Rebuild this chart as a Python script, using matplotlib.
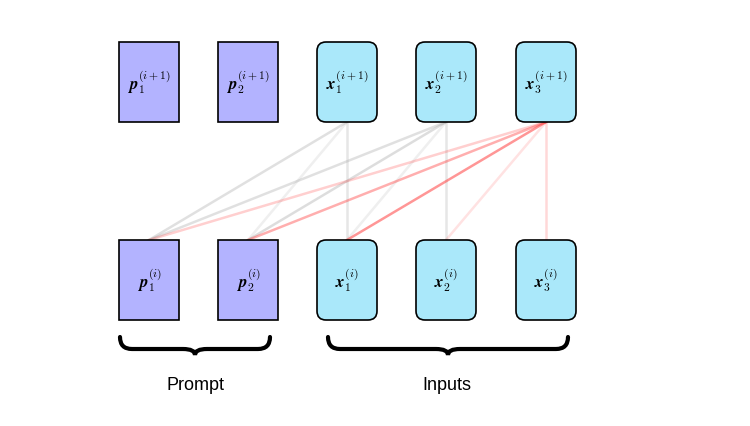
import matplotlib
matplotlib.use("Agg")
import matplotlib.pyplot as plt
from matplotlib.patches import FancyBboxPatch, Rectangle, PathPatch
from matplotlib.path import Path

plt.rcParams["mathtext.fontset"] = "cm"

prompt_labels = ["p_1", "p_2"]
input_labels = ["x_1", "x_2", "x_3"]
# attention weights: (source top index, target bottom index, alpha)
grey_edges = [(2, 0, 0.35), (2, 1, 0.18), (2, 2, 0.28),
              (3, 0, 0.35), (3, 1, 0.38), (3, 2, 0.18), (3, 3, 0.28)]
red_edges = [(4, 0, 0.25), (4, 1, 0.42), (4, 2, 0.55), (4, 3, 0.15), (4, 4, 0.2)]

fig = plt.figure(figsize=(7.5, 4.26), dpi=100)
ax = fig.add_axes([0, 0, 1, 1])
ax.set_xlim(0, 750); ax.set_ylim(426, 0); ax.axis("off")

xc = [149, 248, 347, 446, 546]
w, h = 60, 80
top_y, bot_y = 42, 240

for s, t, a in grey_edges:
    ax.plot([xc[s], xc[t]], [top_y + h, bot_y], color="#a8a8a8", alpha=a, lw=1.8, zorder=1)
for s, t, a in red_edges:
    ax.plot([xc[s], xc[t]], [top_y + h, bot_y], color="#ff4040", alpha=a, lw=1.8, zorder=1)

labels = prompt_labels + input_labels
for i, lab in enumerate(labels):
    v, sub = lab.split("_")
    for y0, sup in [(top_y, "(i+1)"), (bot_y, "(i)")]:
        x0 = xc[i] - w / 2
        if v == "p":
            ax.add_patch(Rectangle((x0, y0), w, h, fc="#b3b3ff", ec="black", lw=1.2, zorder=2))
        else:
            ax.add_patch(FancyBboxPatch((x0, y0), w, h, boxstyle="round,pad=0,rounding_size=9",
                                        fc="#aae8fa", ec="black", lw=1.2, zorder=2))
        ax.text(xc[i], y0 + h / 2, r"$\mathbfit{%s}_{%s}^{%s}$" % (v, sub, sup),
                ha="center", va="center", fontsize=12, zorder=3)

def brace(x1, x2, y, d=18):
    xm = (x1 + x2) / 2
    r = 12
    verts = [(x1, y), (x1, y + r), (x1 + r, y + r),
             (xm - r, y + r), (xm, y + r), (xm, y + d),
             (xm, y + r), (xm + r, y + r),
             (x2 - r, y + r), (x2, y + r), (x2, y)]
    codes = [Path.MOVETO, Path.CURVE3, Path.CURVE3,
             Path.LINETO, Path.CURVE3, Path.CURVE3,
             Path.CURVE3, Path.CURVE3,
             Path.LINETO, Path.CURVE3, Path.CURVE3]
    ax.add_patch(PathPatch(Path(verts, codes), fc="none", ec="black", lw=3, capstyle="round"))

brace(120, 270, 337)
brace(328, 568, 337)
ax.text(195, 386, "Prompt", ha="center", va="center", fontsize=13, family="Liberation Sans")
ax.text(447, 386, "Inputs", ha="center", va="center", fontsize=13, family="Liberation Sans")

fig.savefig("out.png", dpi=100)
